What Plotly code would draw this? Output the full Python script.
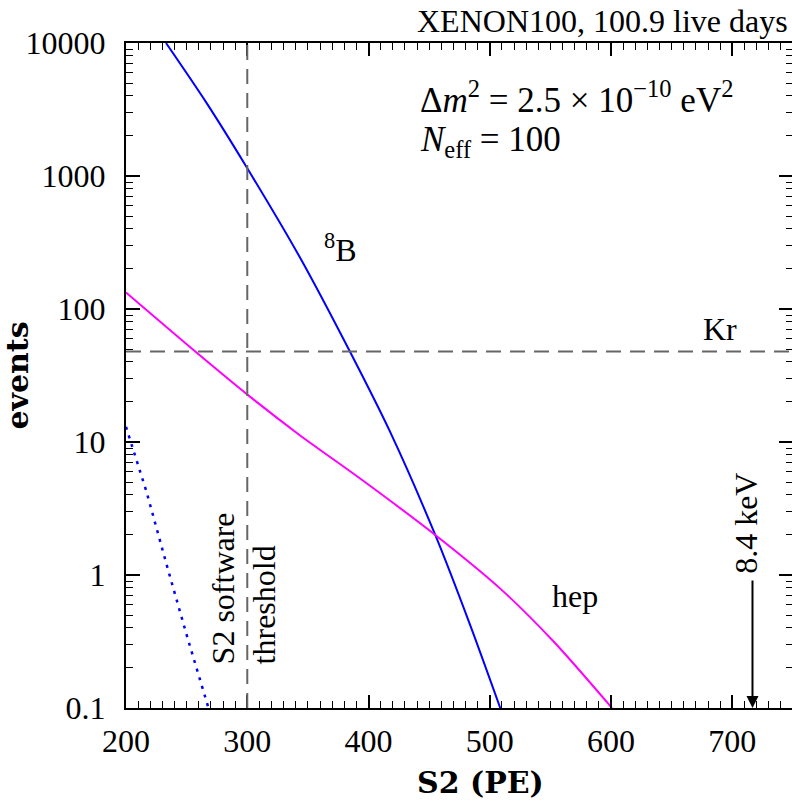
import plotly.graph_objects as go

# 8B neutrino spectrum (solid blue)
b8_s2 = [233, 266, 299, 343, 384.3, 417.8, 455, 483.8, 508.6]
b8_ev = [10000, 3590, 1183, 248, 48.5, 11.9, 2.0, 0.42, 0.1]

# hep neutrino spectrum (magenta)
hep_s2 = [200, 256.4, 300.4, 343.6, 392.5, 455, 508.6, 552.6, 600.7]
hep_ev = [133, 48.5, 22.6, 11.2, 5.36, 2.0, 0.79, 0.316, 0.1]

# dotted blue component below threshold
low_s2 = [200, 217, 234, 251, 268]
low_ev = [13, 4.2, 1.15, 0.33, 0.1]

threshold_s2 = 300
kr_events = 48
arrow_s2 = 716.6

x_range = [200, 750]
y_decades = [-1, 4]
y_tickvals = [0.1, 1, 10, 100, 1000, 10000]
y_ticktext = ["0.1", "1", "10", "100", "1000", "10000"]

FONT = "Liberation Serif"
TITLE_FONT = "DejaVu Serif"
FS = 32

fig = go.Figure()
fig.add_trace(go.Scatter(x=b8_s2, y=b8_ev, mode="lines",
                         line=dict(color="#0000ff", width=2, shape="spline", smoothing=0.8),
                         hoverinfo="skip"))
fig.add_trace(go.Scatter(x=hep_s2, y=hep_ev, mode="lines",
                         line=dict(color="#ff00ff", width=2, shape="spline", smoothing=0.8),
                         hoverinfo="skip"))
fig.add_trace(go.Scatter(x=low_s2, y=low_ev, mode="lines",
                         line=dict(color="#0000ff", width=2.5, dash="3px,6px"), hoverinfo="skip"))

# threshold and Kr reference lines
fig.add_shape(type="line", xref="x", yref="paper", x0=threshold_s2, x1=threshold_s2, y0=0, y1=1,
              line=dict(color="#666666", width=2, dash="15px,9px"))
fig.add_shape(type="line", xref="paper", yref="y", x0=0, x1=1, y0=kr_events, y1=kr_events,
              line=dict(color="#666666", width=2, dash="15px,9px"))

# 8.4 keV arrow
fig.add_annotation(x=arrow_s2, y=-1, ax=arrow_s2, ay=-0.03, xref="x", yref="y", axref="x", ayref="y",
                   showarrow=True, arrowhead=2, arrowsize=1.2, arrowwidth=2, arrowcolor="black", text="")

tf = dict(family=FONT, size=FS, color="black")
mf = dict(family=FONT, size=35, color="black")
fig.add_annotation(x=376.6, y=2.46, xref="x", yref="y", text="<sup>8</sup>B", showarrow=False, font=tf)
fig.add_annotation(x=570.5, y=-0.16, xref="x", yref="y", text="hep", showarrow=False, font=tf)
fig.add_annotation(x=690, y=1.85, xref="x", yref="y", text="Kr", showarrow=False, font=tf)
fig.add_annotation(x=710.7, y=0.387, xref="x", yref="y", text="8.4 keV", textangle=-90,
                   showarrow=False, font=tf)
fig.add_annotation(x=297.4, y=-0.1, xref="x", yref="y", text="S2 software<br>threshold", textangle=-90,
                   align="left", showarrow=False, font=tf)
fig.add_annotation(x=0.9955, y=1, xref="paper", yref="paper", xanchor="right", yanchor="bottom",
                   yshift=2, text="XENON100, 100.9 live days", showarrow=False, font=tf)
fig.add_annotation(x=0.438, y=0.918, xref="paper", yref="paper", xanchor="left", yanchor="middle",
                   text="Δ<i>m</i><sup>2</sup> = 2.5 × 10<sup>−10</sup> eV<sup>2</sup>",
                   showarrow=False, font=mf)
fig.add_annotation(x=0.438, y=0.852, xref="paper", yref="paper", xanchor="left", yanchor="middle",
                   text="<i>N</i><sub>eff</sub> = 100", showarrow=False, font=mf)

# x-axis title, placed as an annotation
fig.add_annotation(x=0.532, y=0, xref="paper", yref="paper", yanchor="middle", yshift=-74,
                   text="<b>S2 (PE)</b>", showarrow=False, font=dict(family=TITLE_FONT, size=30))

fig.update_layout(
    template="none",
    width=793, height=802,
    margin=dict(l=126, r=0, t=43, b=94),
    paper_bgcolor="white", plot_bgcolor="white",
    showlegend=False,
    font=dict(family=FONT, size=FS, color="black"),
)
fig.update_xaxes(
    range=x_range, tickmode="linear", tick0=200, dtick=100,
    ticks="inside", ticklen=13, tickwidth=1.8, tickcolor="black",
    minor=dict(dtick=10, tick0=200, ticks="inside", ticklen=7, tickwidth=1.3, tickcolor="black"),
    showline=True, linecolor="black", linewidth=2, mirror="allticks", showgrid=False, zeroline=False,
    tickfont=dict(family=FONT, size=FS), ticklabelstandoff=4,
)
fig.update_yaxes(
    type="log", range=y_decades, tickmode="array", tickvals=y_tickvals, ticktext=y_ticktext,
    ticks="inside", ticklen=14, tickwidth=1.8, tickcolor="black",
    minor=dict(dtick="D1", ticks="inside", ticklen=7, tickwidth=1.3, tickcolor="black"),
    showline=True, linecolor="black", linewidth=2, mirror="allticks", showgrid=False, zeroline=False,
    tickfont=dict(family=FONT, size=FS), ticklabelstandoff=12,
    title=dict(text="<b>events</b>", font=dict(family=TITLE_FONT, size=30), standoff=10),
)

fig.write_html("out.html")
